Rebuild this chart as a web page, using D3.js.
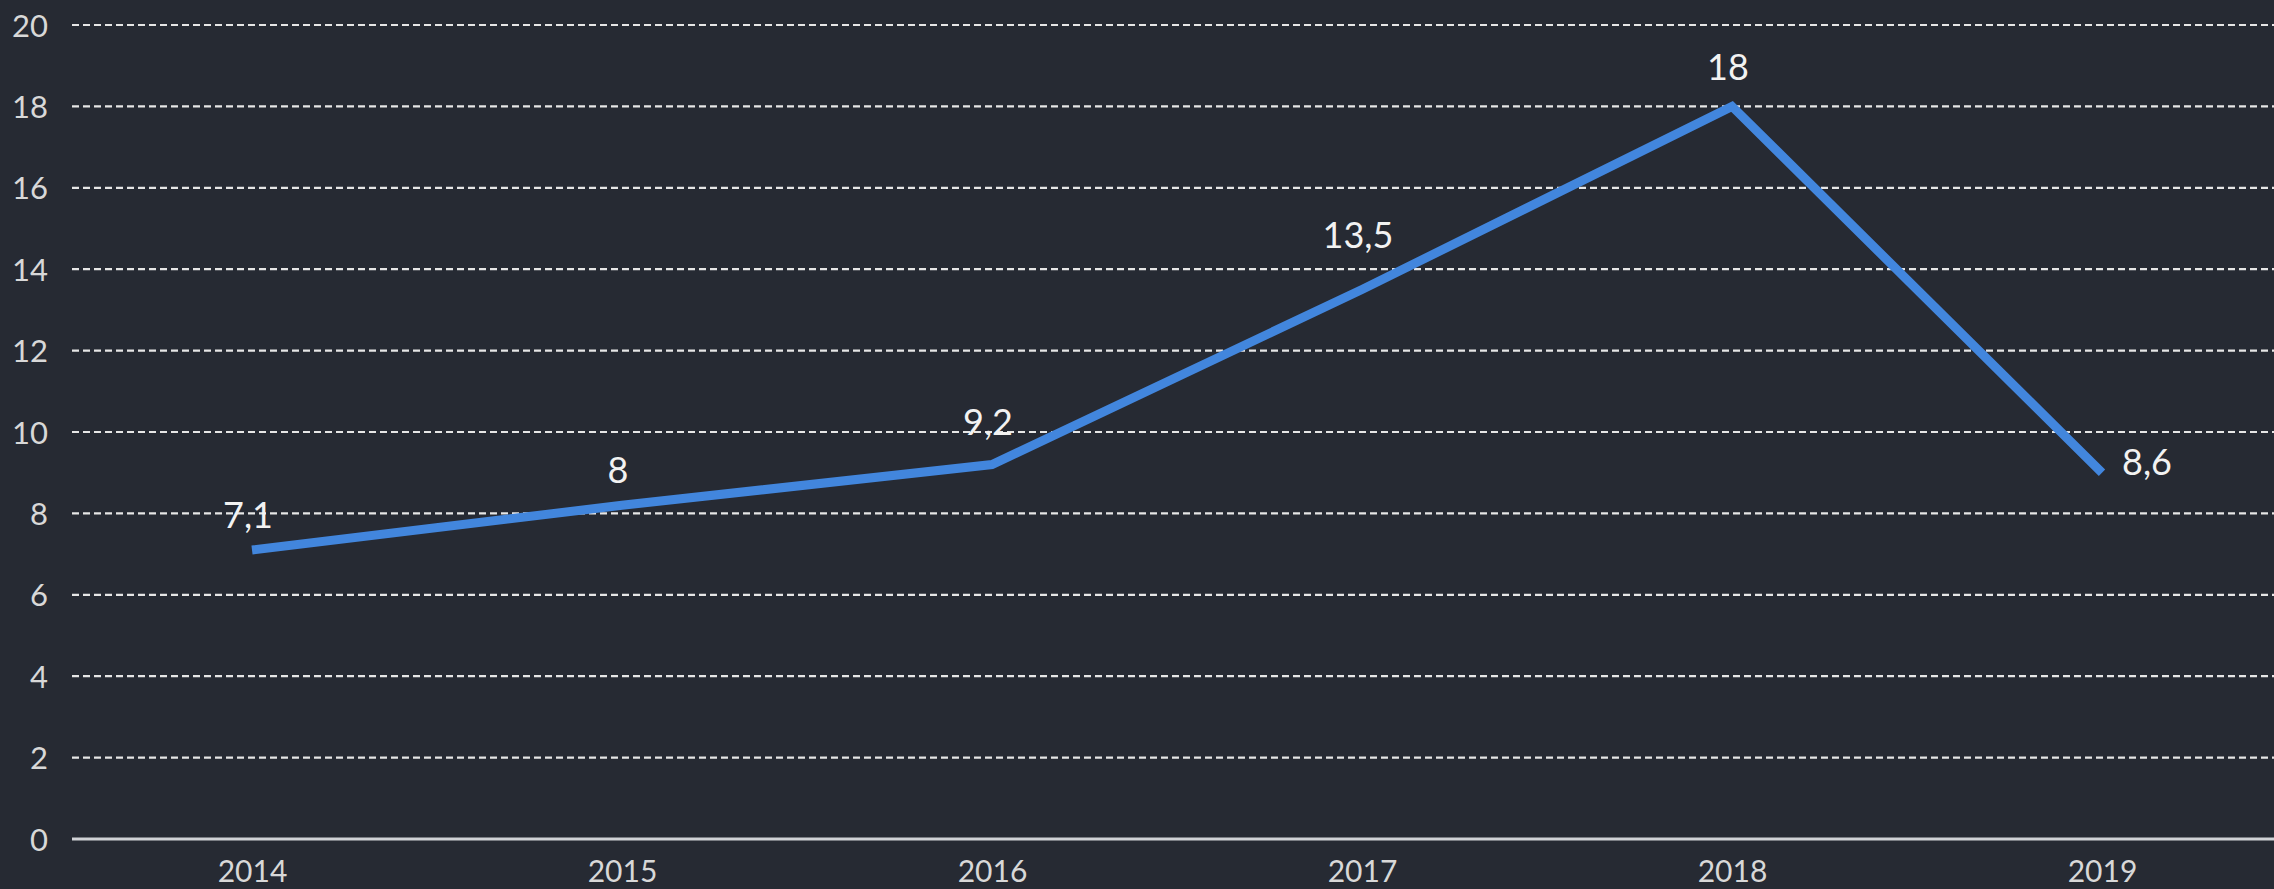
<!DOCTYPE html>
<html><head><meta charset="utf-8">
<script src="https://cdn.jsdelivr.net/npm/d3@7"></script>
<style>
html,body{margin:0;padding:0;background:#262a33;overflow:hidden}
svg{display:block}
text{font-family:Lato,"Noto Sans",sans-serif}
</style></head>
<body><svg id="c" width="2274" height="889"></svg>
<script>
const years = ["2014","2015","2016","2017","2018","2019"];
const values = [7.1, 8.2, 9.2, 13.5, 18, 9.0];
const valueLabels = ["7,1","8","9,2","13,5","18","8,6"];
const yTicks = [0,2,4,6,8,10,12,14,16,18,20];

const W = 2274, H = 889;
const svg = d3.select("#c");
svg.append("rect").attr("width",W).attr("height",H).attr("fill","#262a33");

const x = d3.scalePoint().domain(years).range([252, 2102]);
const y = d3.scaleLinear().domain([0,20]).range([839, 25]);
const gridLeft = 72, gridRight = W;

// grid lines
svg.append("g").selectAll("line").data(yTicks.filter(d=>d>0)).join("line")
  .attr("x1",gridLeft).attr("x2",gridRight)
  .attr("y1",d=>y(d)).attr("y2",d=>y(d))
  .attr("stroke","#e6e6e6").attr("stroke-width",2.2)
  .attr("stroke-dasharray","7,4");

// y axis labels
const yAxis = d3.axisLeft(y).tickValues(yTicks).tickSize(0).tickPadding(0);
const gy = svg.append("g").attr("transform",`translate(48,0)`).call(yAxis);
gy.select(".domain").remove();
gy.selectAll("text").attr("fill","#d8d8d8").attr("font-size",31).attr("dy","0.36em");

// baseline
svg.append("line").attr("x1",gridLeft).attr("x2",gridRight)
  .attr("y1",y(0)).attr("y2",y(0)).attr("stroke","#d0d2d6").attr("stroke-width",3);

// x axis labels
const xAxis = d3.axisBottom(x).tickSize(0).tickPadding(0);
const gx = svg.append("g").attr("transform",`translate(0,${y(0)})`).call(xAxis);
gx.select(".domain").remove();
gx.selectAll("text").attr("fill","#d8d8d8").attr("font-size",30).attr("dy","0").attr("y",43);

// line
const line = d3.line().x((d,i)=>x(years[i])).y(d=>y(d));
svg.append("path").datum(values).attr("d",line)
  .attr("fill","none").attr("stroke","#4286dd").attr("stroke-width",9)
  .attr("stroke-linejoin","miter").attr("stroke-linecap","butt");

// value labels (Excel-style placement: above, last one to the right)
const labelLift = [22, 22, 30, 42, 26, 0];
const last = values.length-1;
svg.append("g").selectAll("text").data(values).join("text")
  .attr("x",(d,i)=> i===last ? x(years[i])+20 : x(years[i]) - 4)
  .attr("y",(d,i)=> i===last ? y(d)+2 : y(d)-labelLift[i])
  .attr("text-anchor",(d,i)=> i===last ? "start" : "middle")
  .attr("fill","#f2f2f2").attr("font-size",36)
  .text((d,i)=>valueLabels[i]);
</script></body></html>
